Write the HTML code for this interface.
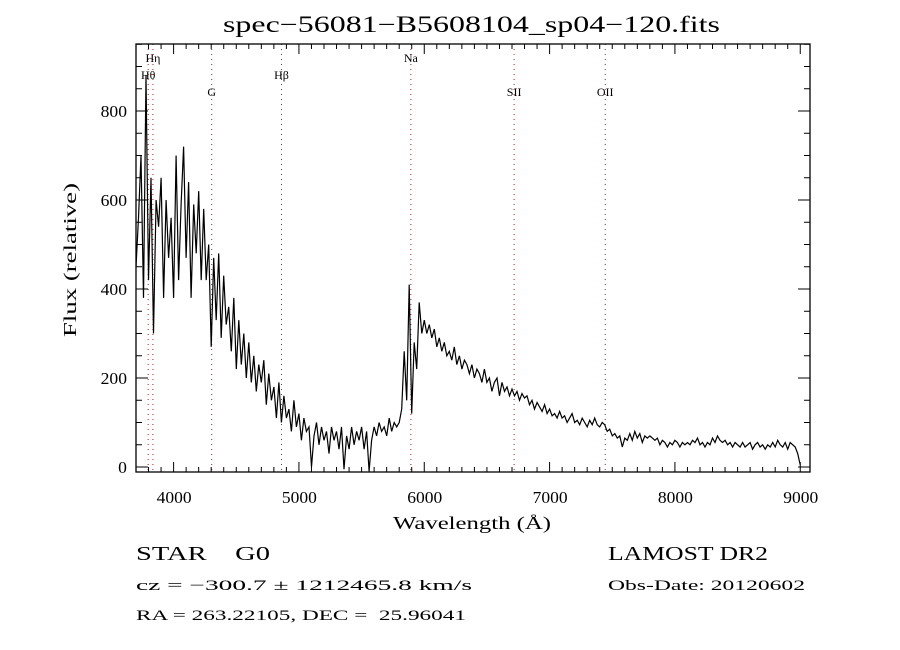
<!DOCTYPE html>
<html><head><meta charset="utf-8">
<style>
body{margin:0;background:#fff;}
svg{display:block;font-family:"Liberation Serif",serif;}
text{white-space:pre;}
</style></head>
<body>
<svg id="chart" width="900" height="650" viewBox="0 0 900 650" xmlns="http://www.w3.org/2000/svg" xml:space="preserve">
<rect width="900" height="650" fill="#fff"/>
<text x="223" y="32" font-size="23" textLength="497" lengthAdjust="spacingAndGlyphs">spec−56081−B5608104_sp04−120.fits</text>
<g id="lines"></g>
<g id="series"></g>
<g id="axes"></g>
<text transform="translate(76,337) rotate(-90)" font-size="18" textLength="154" lengthAdjust="spacingAndGlyphs">Flux (relative)</text>
<text x="393" y="529" font-size="18" textLength="158" lengthAdjust="spacingAndGlyphs">Wavelength (Å)</text>
<text x="136" y="560" font-size="20" textLength="134" lengthAdjust="spacingAndGlyphs">STAR    G0</text>
<text x="608" y="560" font-size="20" textLength="160" lengthAdjust="spacingAndGlyphs">LAMOST DR2</text>
<text x="136" y="590" font-size="15" textLength="336" lengthAdjust="spacingAndGlyphs">cz = −300.7 ± 1212465.8 km/s</text>
<text x="608" y="590" font-size="15" textLength="197" lengthAdjust="spacingAndGlyphs">Obs-Date: 20120602</text>
<text x="136" y="620" font-size="15" textLength="330" lengthAdjust="spacingAndGlyphs">RA = 263.22105, DEC =  25.96041</text>
</svg>
<script>
const waveStart = 3700;
const waveStep = 20;
const flux = [450,560,700,380,880,420,650,300,600,540,650,
380,600,470,560,380,700,420,590,720,470,640,380,590,480,620,420,580,420,500,270,470,330,480,290,430,320,360,260,380,220,330,230,300,200,280,190,250,170,230,190,240,140,210,150,180,110,190,100,160,110,130,80,150,90,120,60,110,80,90,0,70,100,50,90,60,80,30,90,60,80,40,90,-5,70,40,90,50,80,60,90,40,80,-10,60,90,70,100,80,90,70,110,80,100,90,100,130,260,150,410,120,280,220,370,300,330,300,320,290,310,270,290,260,280,250,260,240,270,230,250,220,240,230,210,230,200,220,210,190,220,190,200,170,190,200,160,190,170,180,160,175,160,170,150,165,155,160,140,150,130,145,135,125,140,120,130,115,120,110,125,110,115,100,110,120,100,105,95,110,100,90,105,95,110,95,90,100,95,80,85,70,75,65,70,45,65,60,75,60,80,65,75,55,70,65,70,65,60,65,50,60,55,45,55,50,60,55,45,55,50,55,50,60,55,65,50,55,45,55,50,65,55,70,60,55,60,50,55,45,55,50,45,55,45,50,55,40,50,55,45,50,40,50,45,55,45,60,50,45,55,40,55,50,45,30,5];
const lineNames = ["Hθ","Hη","G","Hβ","Na","SII","OII"];
const lineWaves = [3797,3835,4304,4861,5893,6717,7444];
const xTicks = [4000,5000,6000,7000,8000,9000];
const yTicks = [0,200,400,600,800];

const NS="http://www.w3.org/2000/svg";
const L=136,R=810,T=44,B=472;
const xs=w=>L+(w-3700)*0.12533;
const ys=f=>467-f*0.445;
function mk(tag,attrs,parent){const e=document.createElementNS(NS,tag);for(const k in attrs)e.setAttribute(k,attrs[k]);parent.appendChild(e);return e;}
const axes=document.getElementById('axes'),lines=document.getElementById('lines'),series=document.getElementById('series');

const fr=mk('rect',{x:L,y:T,width:R-L,height:B-T,fill:'none',stroke:'#000','stroke-width':1.3},axes);



for(let w=3700;w<=9080;w+=100){const x=xs(w);const maj=w%1000===0;const len=maj?10:5;
 mk('line',{x1:x,y1:B,x2:x,y2:B-len,stroke:'#000'},axes);mk('line',{x1:x,y1:T,x2:x,y2:T+len,stroke:'#000'},axes);}
xTicks.forEach(v=>{const t=mk('text',{x:xs(v)-17,y:503,'font-size':17,textLength:35,lengthAdjust:'spacingAndGlyphs'},axes);t.textContent=v;
 
 });
for(let f=0;f<=950;f+=50){const y=ys(f);if(y<T)break;const maj=f%200===0;const len=maj?12:6;
 mk('line',{x1:L,y1:y,x2:L+len,y2:y,stroke:'#000'},axes);mk('line',{x1:R,y1:y,x2:R-len,y2:y,stroke:'#000'},axes);}
yTicks.forEach(v=>{const s=String(v);const w=s.length*8.8;const t=mk('text',{x:127-w,y:ys(v)+6,'font-size':17,textLength:w,lengthAdjust:'spacingAndGlyphs'},axes);t.textContent=s;
 
 });

const labY={"Hη":62,"Hθ":79,"G":96,"Hβ":79,"Na":62,"SII":96,"OII":96};
const labDx={"Hη":0,"Hθ":0,"G":0,"Hβ":0,"Na":0,"SII":0,"OII":0};
lineWaves.forEach((w,i)=>{const x=xs(w);
 const l=mk('line',{x1:x,y1:T,x2:x,y2:B,stroke:'#8b2a2a','stroke-width':1,'stroke-dasharray':'1 4'},lines);
 
 
 const t=mk('text',{x:x+labDx[lineNames[i]],y:labY[lineNames[i]],'font-size':12,'text-anchor':'middle'},lines);t.textContent=lineNames[i];
 
 });

let d='';flux.forEach((f,i)=>{const x=xs(waveStart+i*waveStep);let y=ys(f);y=Math.max(T,Math.min(B,y));d+=(i?'L':'M')+x.toFixed(1)+' '+y.toFixed(1);});
const p=mk('path',{d:d,fill:'none',stroke:'#000','stroke-width':1.2},series);


</script>
</body></html>
